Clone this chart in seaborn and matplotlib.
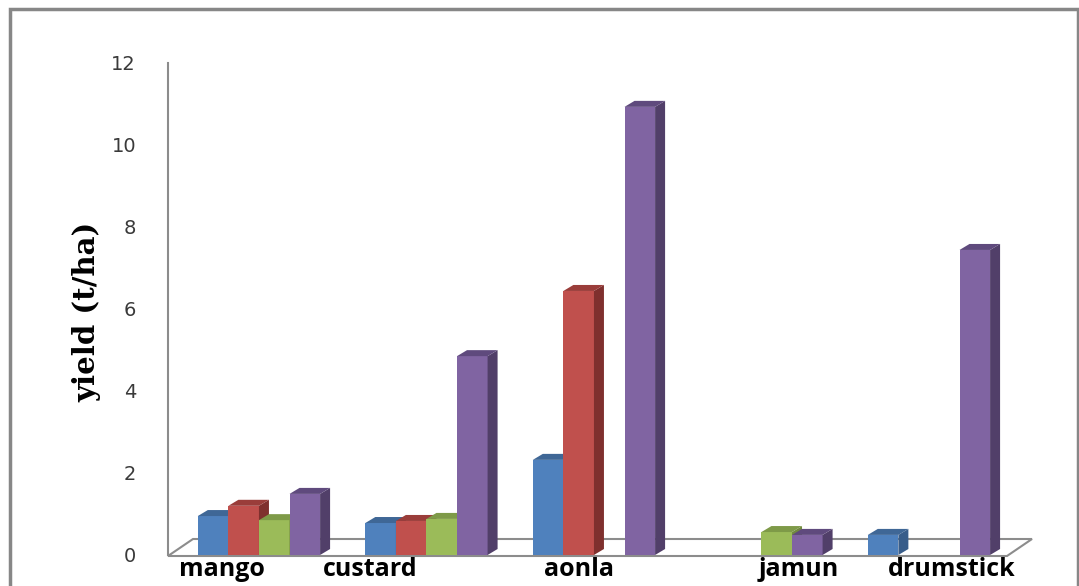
import numpy as np
import pandas as pd
import matplotlib
matplotlib.use("Agg")
import matplotlib.pyplot as plt
import seaborn as sns
from matplotlib.patches import Polygon, Rectangle

# Fruit yield data (t/ha) for four series; NaN = no bar
crops = ["mango", "custard", "aonla", "jamun", "drumstick"]
series_names = ["series 1", "series 2", "series 3", "series 4"]
yield_s1 = [0.95, 0.78, 2.32, np.nan, 0.49]
yield_s2 = [1.20, 0.83, 6.44, np.nan, np.nan]
yield_s3 = [0.85, 0.88, np.nan, 0.56, np.nan]
yield_s4 = [1.49, 4.85, 10.93, 0.49, 7.44]
y_ticks = [0, 2, 4, 6, 8, 10, 12]

front_colors = ["#4F81BD", "#C0504D", "#9BBB59", "#8064A2"]
side_colors = ["#385D8A", "#7F302E", "#71893F", "#513F69"]
top_colors = ["#3F6796", "#9A3D3A", "#7E9A48", "#5F4A7D"]

rows = []
for name, vals in zip(series_names, [yield_s1, yield_s2, yield_s3, yield_s4]):
    for crop, v in zip(crops, vals):
        if not np.isnan(v):
            rows.append({"crop": crop, "series": name, "yield": v})
df = pd.DataFrame(rows)

sns.set_style("white")
W, H, DPI = 1079, 586, 100
fig = plt.figure(figsize=(W / DPI, H / DPI), dpi=DPI)

# axes placement in pixels
ax_l, ax_r, ax_b, ax_t = 168, 1007, 555, 63
ax = fig.add_axes([ax_l / W, (H - ax_b) / H, (ax_r - ax_l) / W, (ax_b - ax_t) / H])

sns.barplot(data=df, x="crop", y="yield", hue="series", order=crops,
            hue_order=series_names, palette=front_colors, width=0.73,
            saturation=1, legend=False, linewidth=0, ax=ax)

xmin, xmax = -0.543, 4.466
ax.set_xlim(xmin, xmax)
ax.set_ylim(0, 12)
ax.set_yticks(y_ticks)

# pixel -> data scale for the depth offsets
sx = (ax_r - ax_l) / (xmax - xmin)
sy = (ax_b - ax_t) / 12.0
dx, dy = 10 / sx, 6 / sy

bars = []
for i, cont in enumerate(ax.containers):
    for p in cont.patches:
        h = p.get_height()
        if h is None or np.isnan(h) or h == 0:
            continue
        bars.append((p.get_x(), i, p))
bars.sort(key=lambda t: t[0])

for rank, (x0, i, p) in enumerate(bars):
    w, h = p.get_width(), p.get_height()
    x1 = x0 + w
    z = 10 + rank * 3
    p.set_zorder(z)
    side = Polygon([(x1, 0), (x1 + dx, dy), (x1 + dx, h + dy), (x1, h)],
                   closed=True, facecolor=side_colors[i], edgecolor="none",
                   zorder=z + 1)
    top = Polygon([(x0, h), (x0 + dx, h + dy), (x1 + dx, h + dy), (x1, h)],
                  closed=True, facecolor=top_colors[i], edgecolor="none",
                  zorder=z + 2)
    ax.add_patch(side)
    ax.add_patch(top)

# floor of the 3-D plot
aw, ah = ax_r - ax_l, ax_b - ax_t
floor = Polygon([(0, -1 / ah), (25 / aw, 16 / ah), ((1032 - ax_l) / aw, 16 / ah),
                 (1.0, -1 / ah)], closed=True, transform=ax.transAxes,
                facecolor="white", edgecolor="#8C8C8C", linewidth=1.5,
                zorder=1, clip_on=False)
ax.add_patch(floor)

for s in ["top", "right", "bottom"]:
    ax.spines[s].set_visible(False)
ax.spines["left"].set_color("#8C8C8C")
ax.spines["left"].set_linewidth(1.5)
ax.tick_params(axis="y", direction="out", length=10, width=1.5, color="#8C8C8C",
               pad=13, labelsize=14, labelcolor="#3A3A3A")
ax.tick_params(axis="x", length=0, labelbottom=False)

# category names sit along the front edge of the floor
label_shift_px = [-37, -56, -15, 37, 23]
for k, (crop, shift) in enumerate(zip(crops, label_shift_px)):
    ax.text(k + shift / sx, -2 / ah, crop, ha="center", va="top",
            fontfamily="Open Sans", fontweight="bold", fontsize=18,
            color="black", transform=ax.get_xaxis_transform(), clip_on=False)

ax.set_xlabel("")
ax.set_ylabel("yield (t/ha)", fontfamily="DejaVu Serif", fontweight="heavy",
              fontsize=21, color="black")
ax.yaxis.set_label_coords(-0.08, 0.494)

# chart frame
fig.add_artist(Rectangle((10 / W, -0.02), (1078 - 10) / W, (H - 9) / H + 0.02,
                         transform=fig.transFigure, facecolor="none",
                         edgecolor="#878787", linewidth=2.5))

fig.savefig("out.png", dpi=DPI)
